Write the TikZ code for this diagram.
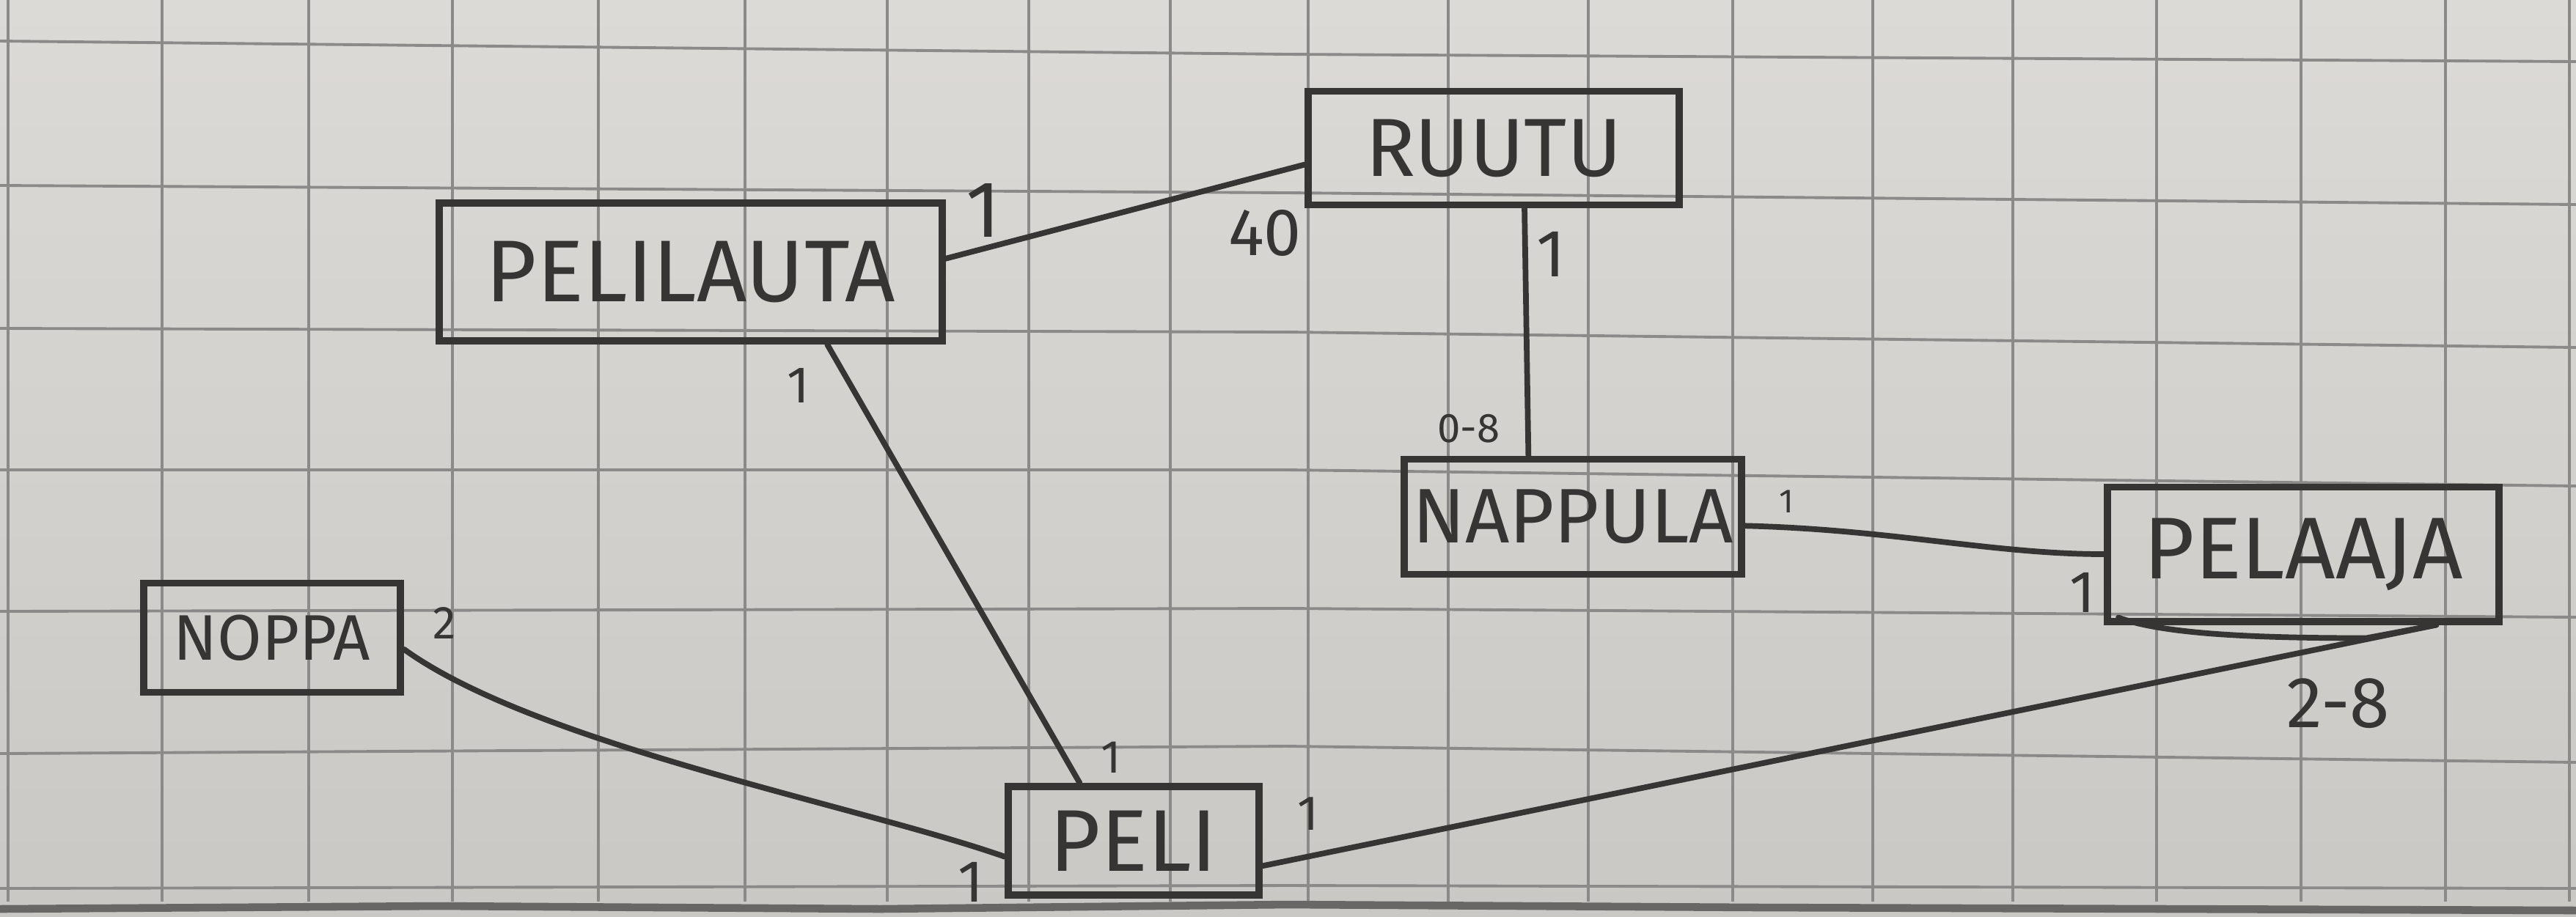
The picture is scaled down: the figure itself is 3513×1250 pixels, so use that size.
\documentclass[tikz,border=0pt]{standalone}
\usepackage{fontspec}
\newfontfamily\hand{Fira Sans}
\definecolor{papertop}{RGB}{220,218,215}
\definecolor{paperbot}{RGB}{202,200,197}
\definecolor{gridc}{RGB}{140,138,136}
\definecolor{ink}{RGB}{55,53,52}
\tikzset{
  gridline/.style={draw=gridc, line width=1.1pt},
  classbox/.style={draw=ink, line width=2.8pt, inner sep=0pt, text=ink},
  assoc/.style={draw=ink, line width=2.2pt, line cap=round, line join=round},
  mult/.style={text=ink, inner sep=0pt}
}
\newcommand{\fsz}[1]{\hand\fontsize{#1}{#1}\selectfont}
\begin{document}
\begin{tikzpicture}[x=0.01cm, y=-0.01cm]
% paper
\shade[top color=papertop, bottom color=paperbot] (0,0) rectangle (3513,1250);
\useasboundingbox (0,0) rectangle (3513,1250);
% grid
\foreach \gx in {11,221,421,617,816,1016,1210,1403,1596,1784,1975,2166,2363,2554,2745,2941,3138,3335,3504}
  \draw[gridline] (\gx,0) -- (\gx,1230);
\foreach \ya/\yb/\yc in {56/74/84,253/263/279,448/453/474,641/641/663,834/830/842,1028/1018/1040,1212/1208/1212}
  \draw[gridline] (0,\ya) -- (1756,\yb) -- (3513,\yc);
\draw[draw=gridc!75!black, line width=3pt] (0,1240) -- (600,1236) -- (1200,1240) -- (1756,1234) -- (2400,1238) -- (3513,1242);

% classes
\node[classbox, minimum width=6.85cm, minimum height=1.88cm, font=\fsz{34}] (pelilauta) at (942,371) {PELILAUTA};
\node[classbox, minimum width=5.06cm, minimum height=1.55cm, font=\fsz{32}] (ruutu) at (2037,202) {RUUTU};
\node[classbox, minimum width=4.59cm, minimum height=1.57cm, font=\fsz{30}] (nappula) at (2145,705) {NAPPULA};
\node[classbox, minimum width=5.34cm, minimum height=1.83cm, font=\fsz{34}] (pelaaja) at (3141,756) {PELAAJA};
\node[classbox, minimum width=3.50cm, minimum height=1.49cm, font=\fsz{25}] (noppa) at (371,870) {NOPPA};
\node[classbox, minimum width=3.42cm, minimum height=1.48cm, font=\fsz{34}] (peli) at (1546,1147) {PELI};

% associations
\draw[assoc] (pelilauta.3) -- (ruutu.185);
\draw[assoc] (ruutu.297) -- (nappula.126);
\draw[assoc] (pelilauta.332) -- (peli.133);
\draw[assoc] (noppa.355) .. controls +(180,130) and +(-200,-70) .. (peli.187);
\draw[assoc] (nappula.357) .. controls +(200,5) and +(-150,0) .. (pelaaja.west);
\draw[assoc] (peli.349) -- (pelaaja.332.5);

% extra swoop under PELAAJA
\draw[assoc] (pelaaja.south west) ++(20,-10) .. controls +(60,22) and +(-160,0) .. ++(338,28) -- (pelaaja.332.5);

% multiplicities
\node[mult, font=\fsz{31}] (m1) at (1341,287) {1};
\node[mult, font=\fsz{26}] (m2) at (1725,318) {40};
\node[mult, font=\fsz{26}] (m3) at (2115,347) {1};
\node[mult, font=\fsz{16}] (m4) at (2003,585) {0-8};
\node[mult, font=\fsz{20}] (m5) at (1089,526) {1};
\node[mult, font=\fsz{13}] (m6) at (2436,684) {1};
\node[mult, font=\fsz{23}] (m7) at (2840,808) {1};
\node[mult, font=\fsz{28}] (m8) at (3189,960) {2-8};
\node[mult, font=\fsz{18}] (m9) at (606,850) {2};
\node[mult, font=\fsz{18}] (m10) at (1515,1033) {1};
\node[mult, font=\fsz{23}] (m11) at (1324,1203) {1};
\node[mult, font=\fsz{19}] (m12) at (1784,1110) {1};
\end{tikzpicture}
\end{document}
